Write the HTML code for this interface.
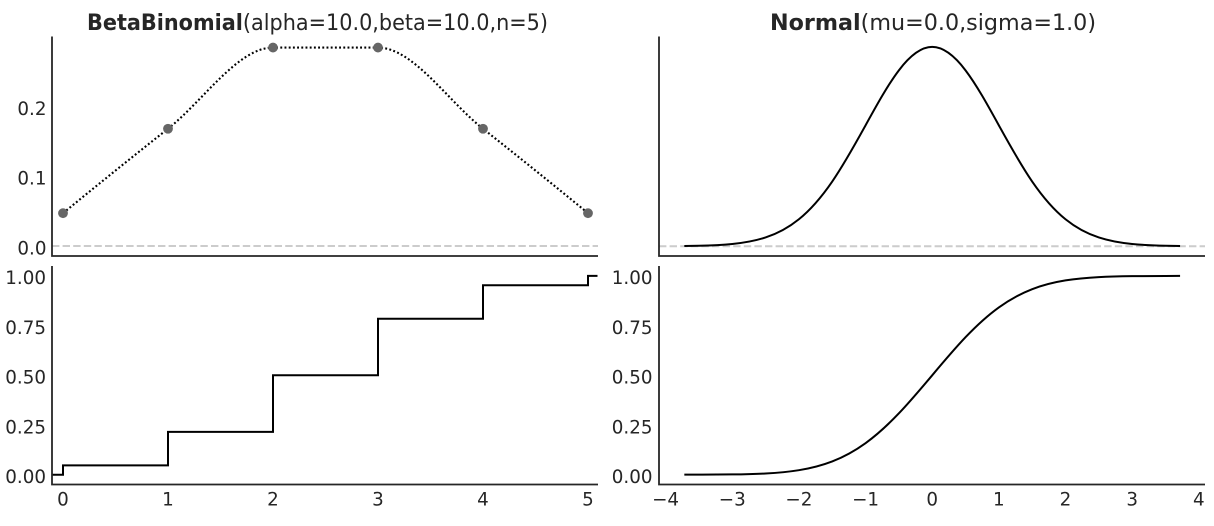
<!DOCTYPE html>
<html>
<head>
<meta charset="utf-8">
<style>
  html, body { margin: 0; padding: 0; background: #ffffff; }
  svg { display: block; }
  text { font-family: "DejaVu Sans", "Liberation Sans", sans-serif; fill: #262626; }
  .tick { font-size: 18.3px; }
  .title { font-size: 22px; }
</style>
</head>
<body>
<svg width="1214" height="526" viewBox="0 0 1214 526" xmlns="http://www.w3.org/2000/svg">
  <rect x="0" y="0" width="1214" height="526" fill="#ffffff"/>

  <!-- Titles -->
  <text class="title" x="87" y="30" textLength="461" lengthAdjust="spacingAndGlyphs"><tspan font-weight="bold">BetaBinomial</tspan>(alpha=10.0,beta=10.0,n=5)</text>
  <text class="title" x="770" y="30" textLength="326" lengthAdjust="spacingAndGlyphs"><tspan font-weight="bold">Normal</tspan>(mu=0.0,sigma=1.0)</text>

  <!-- ===== Top-left: BetaBinomial PMF ===== -->
  <line x1="52" y1="246" x2="598" y2="246" stroke="#cccccc" stroke-width="2" stroke-dasharray="7.4 3.2"/>
  <path d="M63,213.17 C98,184.49 133,156.34 168,128.75 C203,101.16 238,47.58 273,47.58 L378,47.58 C413,47.58 448,101.16 483,128.75 C518,156.34 553,184.49 588,213.17"
        fill="none" stroke="#000" stroke-width="2.1" stroke-dasharray="1.9 2.3"/>
  <g fill="#666666">
    <circle cx="63" cy="213.17" r="4.9"/>
    <circle cx="168" cy="128.75" r="4.9"/>
    <circle cx="273" cy="47.58" r="4.9"/>
    <circle cx="378" cy="47.58" r="4.9"/>
    <circle cx="483" cy="128.75" r="4.9"/>
    <circle cx="588" cy="213.17" r="4.9"/>
  </g>
  <path d="M52,36.5 V256 H598" fill="none" stroke="#262626" stroke-width="1.8"/>
  <g class="tick" text-anchor="end">
    <text x="46.5" y="254.3">0.0</text>
    <text x="46.5" y="184.6">0.1</text>
    <text x="46.5" y="114.9">0.2</text>
  </g>

  <!-- ===== Bottom-left: BetaBinomial CDF ===== -->
  <path d="M52.5,474.7 H63 V465.34 H168 V431.9 H273 V375.3 H378 V318.7 H483 V285.26 H588 V275.9 H597.5"
        fill="none" stroke="#000" stroke-width="2"/>
  <path d="M52,266 V484.5 H598" fill="none" stroke="#262626" stroke-width="1.8"/>
  <g class="tick" text-anchor="end">
    <text x="46" y="483">0.00</text>
    <text x="46" y="433.3">0.25</text>
    <text x="46" y="383.6">0.50</text>
    <text x="46" y="333.9">0.75</text>
    <text x="46" y="284.2">1.00</text>
  </g>
  <g class="tick" text-anchor="middle">
    <text x="63" y="505.5">0</text>
    <text x="168" y="505.5">1</text>
    <text x="273" y="505.5">2</text>
    <text x="378" y="505.5">3</text>
    <text x="483" y="505.5">4</text>
    <text x="588" y="505.5">5</text>
  </g>

  <!-- ===== Top-right: Normal PDF ===== -->
  <line x1="659" y1="246.2" x2="1205" y2="246.2" stroke="#cccccc" stroke-width="2" stroke-dasharray="7.4 3.2"/>
  <path d="M684.33,246.00 L698.92,245.76
           C710.03,245.51 721.14,245.10 732.25,243.99
           C743.36,242.88 754.46,241.10 765.57,237.45
           C776.68,233.80 787.79,228.22 798.9,219.23
           C810.01,210.24 821.11,197.68 832.22,181.51
           C843.33,165.34 854.44,145.48 865.55,125.34
           C876.66,105.20 887.76,85.00 898.87,70.34
           C909.98,55.69 921.09,46.93 932.2,46.93
           C943.31,46.93 954.42,55.69 965.53,70.34
           C976.64,85.00 987.74,105.20 998.85,125.34
           C1009.96,145.48 1021.07,165.34 1032.18,181.51
           C1043.29,197.68 1054.39,210.24 1065.5,219.23
           C1076.61,228.22 1087.72,233.80 1098.83,237.45
           C1109.94,241.10 1121.04,242.88 1132.15,243.99
           C1143.26,245.10 1154.37,245.51 1165.48,245.76
           L1180.07,246.00"
        fill="none" stroke="#000" stroke-width="2"/>
  <path d="M659,36.5 V256 H1205" fill="none" stroke="#262626" stroke-width="1.8"/>

  <!-- ===== Bottom-right: Normal CDF ===== -->
  <path d="M684.33,474.68 L698.92,474.65
           C710.03,474.62 721.14,474.58 732.25,474.43
           C743.36,474.28 754.46,474.05 765.57,473.47
           C776.68,472.89 787.79,471.97 798.9,470.18
           C810.01,468.39 821.11,465.71 832.22,461.42
           C843.33,457.13 854.44,451.18 865.55,443.16
           C876.66,435.14 887.76,425.02 898.87,413.36
           C909.98,401.69 921.09,388.52 932.2,375.3
           C943.31,362.08 954.42,348.91 965.53,337.24
           C976.64,325.58 987.74,315.46 998.85,307.44
           C1009.96,299.42 1021.07,293.47 1032.18,289.18
           C1043.29,284.89 1054.39,282.21 1065.5,280.42
           C1076.61,278.63 1087.72,277.71 1098.83,277.13
           C1109.94,276.55 1121.04,276.32 1132.15,276.17
           C1143.26,276.02 1154.37,275.98 1165.48,275.95
           L1180.07,275.92"
        fill="none" stroke="#000" stroke-width="2"/>
  <path d="M659,266 V484.5 H1205" fill="none" stroke="#262626" stroke-width="1.8"/>
  <g class="tick" text-anchor="end">
    <text x="652.5" y="483">0.00</text>
    <text x="652.5" y="433.3">0.25</text>
    <text x="652.5" y="383.6">0.50</text>
    <text x="652.5" y="333.9">0.75</text>
    <text x="652.5" y="284.2">1.00</text>
  </g>
  <g class="tick" text-anchor="middle">
    <text x="665.6" y="505.5">−4</text>
    <text x="732.25" y="505.5">−3</text>
    <text x="798.9" y="505.5">−2</text>
    <text x="865.55" y="505.5">−1</text>
    <text x="932.2" y="505.5">0</text>
    <text x="998.85" y="505.5">1</text>
    <text x="1065.5" y="505.5">2</text>
    <text x="1132.15" y="505.5">3</text>
    <text x="1198.8" y="505.5">4</text>
  </g>
</svg>
</body>
</html>
